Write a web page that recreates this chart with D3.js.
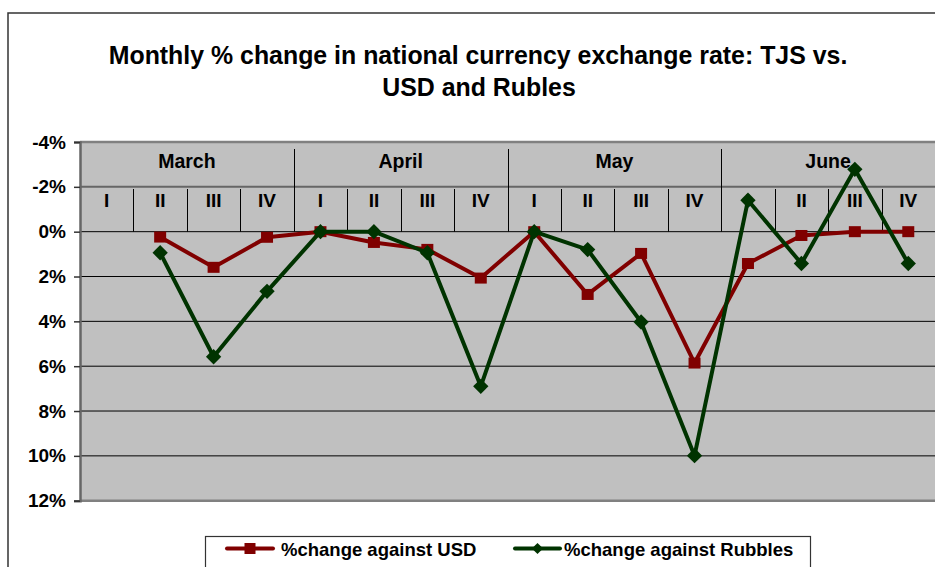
<!DOCTYPE html>
<html><head><meta charset="utf-8">
<script src="https://cdn.jsdelivr.net/npm/d3@7/dist/d3.min.js"></script>
<style>body{margin:0;background:#fff;}svg{display:block;font-family:"Liberation Sans",Arial,sans-serif;}</style>
</head><body>
<svg id="c" width="935" height="567"></svg>
<script>
const months = ["March","April","May","June"];
const weeks = ["I","II","III","IV"];
const usd = [null,0.24,1.59,0.25,0,0.48,0.79,2.07,0,2.8,0.97,5.86,1.42,0.17,0,0];
const rub = [null,0.94,5.58,2.66,0,0,0.94,6.9,0,0.8,4.03,9.99,-1.4,1.42,-2.78,1.42];
const yTicks = [-4,-2,0,2,4,6,8,10,12];
const seriesNames = ["%change against USD","%change against Rubbles"];

const svg = d3.select("#c");
const cats = d3.range(16);
const x = d3.scaleBand().domain(cats).range([80,935]).padding(0);
const y = d3.scaleLinear().domain([-4,12]).range([142,500.7]);
const cx = i => x(i)+x.bandwidth()/2;

// outer frame
svg.append("rect").attr("x",8).attr("y",13).attr("width",940).attr("height",570)
  .attr("fill","#fff").attr("stroke","#333").attr("stroke-width",1.5);

// title
const title = svg.append("text").attr("text-anchor","middle").attr("font-weight","bold")
  .attr("font-size",24.9).attr("fill","#000");
title.append("tspan").attr("x",478).attr("y",64).text("Monthly % change in national currency exchange rate: TJS vs.");
title.append("tspan").attr("x",479).attr("y",96).text("USD and Rubles");

// plot background
svg.append("rect").attr("x",80).attr("y",y(-4)).attr("width",855).attr("height",y(12)-y(-4)).attr("fill","#c0c0c0");

// gridlines
yTicks.forEach(t=>{
  let col="#000", w=1;
  if(t===-4||t===12){col="#808080";w=2.5;}
  else if(t===-2){col="#666";w=2;}
  svg.append("line").attr("x1",80).attr("x2",935).attr("y1",y(t)).attr("y2",y(t))
    .attr("stroke",col).attr("stroke-width",w);
});

// y axis
const yAxis = d3.axisLeft(y).tickValues(yTicks).tickSize(6).tickPadding(8).tickFormat(d=>d+"%");
const ya = svg.append("g").attr("transform","translate(80,0)").call(yAxis);
ya.select(".domain").attr("stroke","#666").attr("stroke-width",2.5);
ya.selectAll(".tick line").attr("stroke","#333").attr("stroke-width",1.5);
ya.selectAll(".tick text").attr("font-size",19).attr("font-weight","bold").attr("fill","#000")
  .attr("font-family","'Liberation Sans',Arial,sans-serif").attr("x",-14);

// category separators
cats.forEach(i=>{
  if(i===0) return;
  const xx = Math.round(x(i))+0.5;
  const isMonth = i%4===0;
  svg.append("line").attr("x1",xx).attr("x2",xx).attr("y1",isMonth?149:189).attr("y2",y(0))
    .attr("stroke","#000").attr("stroke-width",1);
});

// month labels
months.forEach((m,k)=>{
  const x0 = x(k*4), x1 = x(k*4+3)+x.bandwidth();
  svg.append("text").attr("x",(x0+x1)/2).attr("y",168).attr("text-anchor","middle")
    .attr("font-weight","bold").attr("font-size",19.5).attr("fill","#000").text(m);
});
// week labels
cats.forEach(i=>{
  svg.append("text").attr("x",cx(i)).attr("y",207).attr("text-anchor","middle")
    .attr("font-weight","bold").attr("font-size",19).attr("fill","#000").text(weeks[i%4]);
});

// lines
const line = d3.line().defined(d=>d.v!==null).x(d=>cx(d.i)).y(d=>y(d.v));
const usdData = usd.map((v,i)=>({i,v}));
const rubData = rub.map((v,i)=>({i,v}));
const RED="#800000", GREEN="#003300";

svg.append("path").datum(usdData).attr("d",line).attr("fill","none").attr("stroke",RED).attr("stroke-width",4).attr("stroke-linejoin","round");
svg.selectAll(".sq").data(usdData.filter(d=>d.v!==null)).enter().append("rect")
  .attr("x",d=>cx(d.i)-6).attr("y",d=>y(d.v)-5.5).attr("width",12).attr("height",11).attr("fill",RED);

svg.append("path").datum(rubData).attr("d",line).attr("fill","none").attr("stroke",GREEN).attr("stroke-width",4).attr("stroke-linejoin","round");
const dia = d3.symbol().type(d3.symbolDiamond2).size(150);
svg.selectAll(".dm").data(rubData.filter(d=>d.v!==null)).enter().append("path")
  .attr("d",dia).attr("transform",d=>`translate(${cx(d.i)},${y(d.v)})`).attr("fill",GREEN);

// legend
svg.append("rect").attr("x",205.5).attr("y",536.5).attr("width",605).attr("height",40)
  .attr("fill","#fff").attr("stroke","#333").attr("stroke-width",1.2);
const ly = 548.5;
svg.append("line").attr("x1",227).attr("x2",273).attr("y1",ly).attr("y2",ly).attr("stroke",RED).attr("stroke-width",4).attr("stroke-linecap","round");
svg.append("rect").attr("x",250-5.5).attr("y",ly-5.5).attr("width",11).attr("height",11).attr("fill",RED);
svg.append("text").attr("x",281).attr("y",ly+7).attr("font-weight","bold").attr("font-size",18.5).attr("fill","#000").text(seriesNames[0]);
svg.append("line").attr("x1",515).attr("x2",560).attr("y1",ly).attr("y2",ly).attr("stroke",GREEN).attr("stroke-width",4).attr("stroke-linecap","round");
svg.append("path").attr("d",d3.symbol().type(d3.symbolDiamond2).size(80)).attr("transform",`translate(537.5,${ly})`).attr("fill",GREEN);
svg.append("text").attr("x",564).attr("y",ly+7).attr("font-weight","bold").attr("font-size",18.5).attr("fill","#000").text(seriesNames[1]);
</script>
</body></html>
